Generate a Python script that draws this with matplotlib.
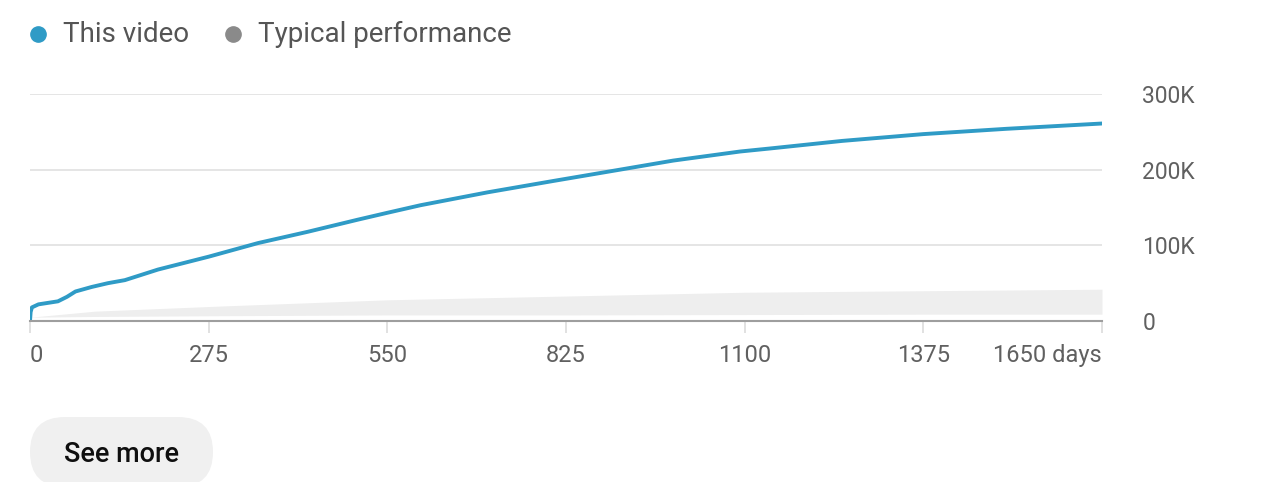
import matplotlib
matplotlib.use("Agg")
import matplotlib.pyplot as plt
from matplotlib.patches import FancyBboxPatch
from matplotlib.lines import Line2D

plt.rcParams['font.family'] = ['Roboto', 'DejaVu Sans']

# ---- data ----
days = [0, 1, 3, 13, 43, 57, 70, 95, 120, 146, 197, 275, 351, 428, 505, 550,
        601, 704, 805, 908, 990, 1093, 1139, 1250, 1375, 1503, 1650]
views = [0, 12000, 18000, 22000, 26000, 32000, 39000, 45000, 50000, 54000, 68000,
         85000, 103000, 118000, 134000, 143000, 153000, 170000, 185000, 200000,
         212000, 224000, 228000, 238000, 247000, 254000, 261000]

typ_days = [0, 100, 300, 550, 825, 1100, 1375, 1650]
typ_low = [5000, 6000, 7000, 8000, 8000, 8500, 9000, 9000]
typ_high = [5000, 13000, 20000, 28000, 33000, 38000, 40000, 42000]

x_ticks = [0, 275, 550, 825, 1100, 1375, 1650]
x_labels = ['0', '275', '550', '825', '1100', '1375', '1650 days']
y_ticks = [0, 100000, 200000, 300000]
y_labels = ['0', '100K', '200K', '300K']

legend_labels = ['This video', 'Typical performance']
blue = '#2f9bc6'
band = '#eeeeee'
txt = '#606060'

W, H = 1282, 482
fig = plt.figure(figsize=(W / 100, H / 100), dpi=100)
left, right = 30, 1102
top, bottom = 94, 321
ax = fig.add_axes([left / W, (H - bottom) / H, (right - left) / W, (bottom - top) / H])

ax.fill_between(typ_days, typ_low, typ_high, color=band, lw=0, zorder=1)
ax.plot(days, views, color=blue, lw=2.8, solid_joinstyle='round', zorder=3)

ax.set_xlim(0, 1650)
ax.set_ylim(0, 300000)

for s in ['top', 'left', 'right']:
    ax.spines[s].set_visible(False)
ax.spines['bottom'].set_color('#9e9e9e')
ax.spines['bottom'].set_linewidth(1.5)
ax.spines['bottom'].set_zorder(4)

ax.set_yticks(y_ticks)
ax.set_yticklabels(y_labels)
ax.yaxis.tick_right()
ax.tick_params(axis='y', length=0, pad=29, labelsize=16.5, labelcolor=txt)
ax.yaxis.grid(True, color='#e0e0e0', lw=1.2)
ax.set_axisbelow(True)

ax.set_xticks(x_ticks)
ax.set_xticklabels(x_labels)
ax.tick_params(axis='x', length=8.5, width=1.2, color='#dcdcdc', pad=8,
               labelsize=17, labelcolor=txt)
xl = ax.get_xticklabels()
xl[0].set_ha('left')
xl[-1].set_ha('right')

# legend
fig.add_artist(Line2D([38 / W], [(H - 34) / H], marker='o', markersize=11,
                      color=blue, lw=0, transform=fig.transFigure))
fig.add_artist(Line2D([233 / W], [(H - 34) / H], marker='o', markersize=11,
                      color='#8a8a8a', lw=0, transform=fig.transFigure))
fig.text(63 / W, (H - 34) / H, legend_labels[0], fontsize=20, color='#555555',
         va='center', ha='left')
fig.text(258 / W, (H - 34) / H, legend_labels[1], fontsize=20, color='#555555',
         va='center', ha='left')

# button
btn = FancyBboxPatch((30, H - 487), 183, 70,
                     boxstyle='round,pad=0,rounding_size=35',
                     transform=None, facecolor='#f0f0f0', edgecolor='none')
fig.add_artist(btn)
fig.text(121 / W, (H - 455) / H, 'See more', fontsize=19.5, color='#0f0f0f',
         fontweight='medium', ha='center', va='center')

fig.savefig('out.png', dpi=100)
